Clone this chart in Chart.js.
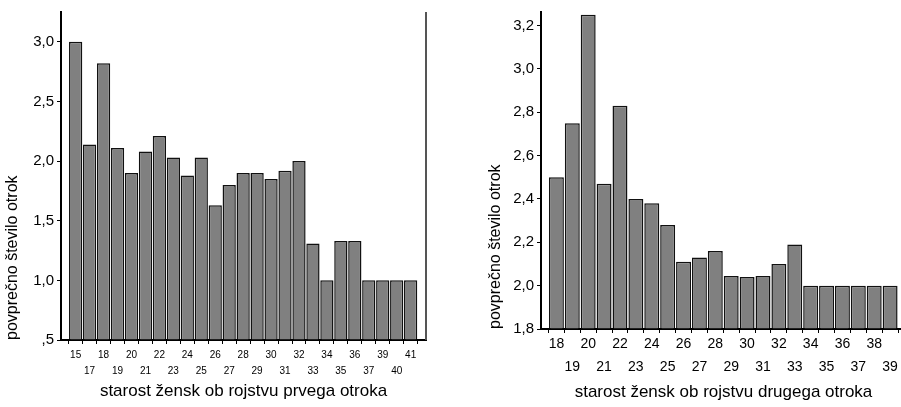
<!DOCTYPE html>
<html lang="sl">
<head>
<meta charset="UTF-8">
<title>Povprečno število otrok</title>
<script src="https://cdn.jsdelivr.net/npm/chart.js@4.4.1/dist/chart.umd.min.js"></script>
<style>
  html, body { margin: 0; padding: 0; background: #fff; overflow: hidden; }
  #wrap { position: relative; width: 901px; height: 407px; overflow: hidden; }
  canvas { position: absolute; top: 0; }
  #c1 { left: 0; }
  #c2 { left: 450px; }
</style>
</head>
<body>
<div id="wrap">
  <canvas id="c1" width="440" height="407"></canvas>
  <canvas id="c2" width="460" height="407"></canvas>
</div>
<script>
// first child
const firstAges = ['15','17','18','19','20','21','22','23','24','25','26','27','28','29','30','31','32','33','34','35','36','37','39','40','41'];
const firstAvg = [3.00, 2.14, 2.82, 2.11, 1.90, 2.08, 2.21, 2.03, 1.88, 2.03, 1.63, 1.80, 1.90, 1.90, 1.85, 1.92, 2.00, 1.31, 1.00, 1.33, 1.33, 1.00, 1.00, 1.00, 1.00];
const firstYTicks = [0.5, 1.0, 1.5, 2.0, 2.5, 3.0];
const firstYLabels = [',5', '1,0', '1,5', '2,0', '2,5', '3,0'];

// second child
const secondAges = ['18','19','20','21','22','23','24','25','26','27','28','29','30','31','32','33','34','35','36','37','38','39'];
const secondAvg = [2.50, 2.75, 3.25, 2.47, 2.83, 2.40, 2.38, 2.28, 2.11, 2.13, 2.16, 2.045, 2.04, 2.045, 2.10, 2.19, 2.00, 2.00, 2.00, 2.00, 2.00, 2.00];
const secondYTicks = [1.8, 2.0, 2.2, 2.4, 2.6, 2.8, 3.0, 3.2];
const secondYLabels = ['1,8', '2,0', '2,2', '2,4', '2,6', '2,8', '3,0', '3,2'];

const FONT = "'Liberation Sans', Arial, sans-serif";
Chart.defaults.font.family = FONT;
Chart.defaults.color = '#000';

// gray line closing the left plot on the right side
const frameRight = {
  id: 'frameRight',
  afterDraw(chart) {
    const { ctx, chartArea } = chart;
    ctx.save();
    ctx.strokeStyle = '#555';
    ctx.lineWidth = 2;
    ctx.beginPath();
    ctx.moveTo(chartArea.right, chartArea.top);
    ctx.lineTo(chartArea.right, chartArea.bottom);
    ctx.stroke();
    ctx.restore();
  }
};

function makeChart(id, labels, values, cfg) {
  const idx = labels.map((l, i) => i);
  return new Chart(document.getElementById(id), {
    type: 'bar',
    data: {
      datasets: [{
        data: values.map((v, i) => ({ x: i, y: v })),
        base: cfg.min,
        backgroundColor: '#808080',
        borderColor: '#111',
        borderWidth: 1.5,
        barPercentage: cfg.barPct,
        categoryPercentage: 1.0
      }]
    },
    options: {
      responsive: false,
      animation: false,
      layout: { padding: cfg.padding },
      plugins: { legend: { display: false }, tooltip: { enabled: false } },
      scales: {
        x: {
          type: 'linear',
          min: cfg.xMin,
          max: labels.length - 1 + cfg.xEnd,
          offset: false,
          grid: { drawOnChartArea: false, drawTicks: true, tickLength: 4, color: '#000', lineWidth: 1 },
          border: { display: true, color: '#000', width: 2 },
          afterBuildTicks: (axis) => { axis.ticks = idx.map(i => ({ value: i })); },
          ticks: {
            autoSkip: false,
            maxRotation: 0,
            padding: cfg.xTickPad,
            font: { size: cfg.xTickSize, lineHeight: cfg.xTickLine },
            callback: (value) => {
              const i = Math.round(value);
              const lab = labels[i] || '';
              return i % 2 === 0 ? [lab, ''] : ['', lab];
            }
          },
          title: {
            display: true,
            text: cfg.xTitle,
            font: { size: 17 },
            padding: { top: 0, bottom: cfg.xTitlePad }
          },
          afterFit: (scale) => { scale.height = cfg.xHeight; }
        },
        y: {
          min: cfg.min,
          max: cfg.max,
          grid: { drawOnChartArea: false, drawTicks: true, tickLength: 4, color: '#000', lineWidth: 1 },
          border: { display: true, color: '#000', width: 2 },
          afterBuildTicks: (axis) => { axis.ticks = cfg.yTicks.map(v => ({ value: v })); },
          ticks: {
            padding: 3,
            font: { size: 15 },
            callback: (value) => {
              const i = cfg.yTicks.findIndex(v => Math.abs(v - value) < 1e-6);
              return i >= 0 ? cfg.yLabels[i] : '';
            }
          },
          title: {
            display: true,
            text: 'povprečno število otrok',
            align: 'start',
            font: { size: 16 },
            padding: { top: cfg.yTitlePad, bottom: 0 }
          },
          afterFit: (scale) => { scale.width = cfg.yWidth; }
        }
      }
    },
    plugins: cfg.plugins || []
  });
}

makeChart('c1', firstAges, firstAvg, {
  min: 0.5, max: 3.25,
  yTicks: firstYTicks, yLabels: firstYLabels,
  xMin: -1.05, xEnd: 1.1, barPct: 0.95,
  xTitle: 'starost žensk ob rojstvu prvega otroka',
  padding: { top: 5, right: 14, left: 0, bottom: 0 },
  xHeight: 67, yWidth: 61,
  xTickSize: 10, xTickLine: 1.6, xTickPad: 3,
  xTitlePad: 5, yTitlePad: 3,
  plugins: [frameRight]
});

makeChart('c2', secondAges, secondAvg, {
  min: 1.8, max: 3.263,
  yTicks: secondYTicks, yLabels: secondYLabels,
  xMin: -0.97, xEnd: 1.0, barPct: 0.94,
  xTitle: 'starost žensk ob rojstvu drugega otroka',
  padding: { top: 5, right: 4, left: 0, bottom: 0 },
  xHeight: 78, yWidth: 91,
  xTickSize: 14, xTickLine: 1.64, xTickPad: 0,
  xTitlePad: 4, yTitlePad: 36
});
</script>
</body>
</html>
